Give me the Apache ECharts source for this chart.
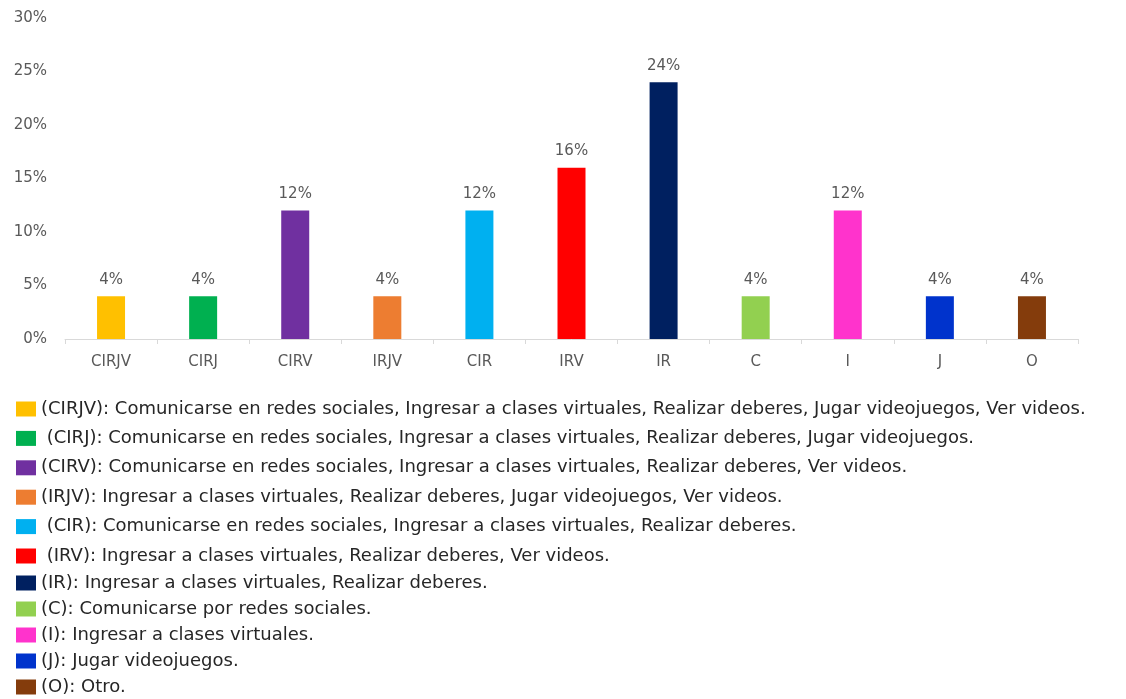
<!DOCTYPE html>
<html>
<head>
<meta charset="utf-8">
<script src="https://cdn.jsdelivr.net/npm/echarts@6/dist/echarts.min.js"></script>
<style>html,body{margin:0;padding:0;background:#fff;}#c{width:1126px;height:699px;}</style>
</head>
<body>
<div id="c"></div>
<script>
const categories = ['CIRJV','CIRJ','CIRV','IRJV','CIR','IRV','IR','C','I','J','O'];
const values = [4,4,12,4,12,16,24,4,12,4,4];
const colors = ['#FFC000','#00B050','#7030A0','#ED7D31','#00B0F0','#FF0000','#002060','#92D050','#FF33CC','#0033CC','#843C0C'];
const descriptions = [
  '(CIRJV): Comunicarse en redes sociales, Ingresar a clases virtuales, Realizar deberes, Jugar videojuegos, Ver videos.',
  ' (CIRJ): Comunicarse en redes sociales, Ingresar a clases virtuales, Realizar deberes, Jugar videojuegos.',
  '(CIRV): Comunicarse en redes sociales, Ingresar a clases virtuales, Realizar deberes, Ver videos.',
  '(IRJV): Ingresar a clases virtuales, Realizar deberes, Jugar videojuegos, Ver videos.',
  ' (CIR): Comunicarse en redes sociales, Ingresar a clases virtuales, Realizar deberes.',
  ' (IRV): Ingresar a clases virtuales, Realizar deberes, Ver videos.',
  '(IR): Ingresar a clases virtuales, Realizar deberes.',
  '(C): Comunicarse por redes sociales.',
  '(I): Ingresar a clases virtuales.',
  '(J): Jugar videojuegos.',
  '(O): Otro.'
];
const yTicks = {min: 0, max: 30, interval: 5};

const FONT = 'DejaVu Sans';
const chart = echarts.init(document.getElementById('c'));
const series = categories.map((cat, i) => ({
  name: cat,
  type: 'bar',
  stack: 'all',
  barWidth: 28,
  itemStyle: {color: colors[i]},
  label: {show: true, position: 'top', distance: 9, formatter: '{c}%', color: '#595959', fontSize: 15, fontFamily: FONT},
  data: categories.map((c, j) => j === i ? values[i] : '-')
}));
const legendText = {color: '#262626', fontSize: 18, fontFamily: FONT};
chart.setOption({
  animation: false,
  grid: {left: 65, right: 48, top: 18, bottom: 360, containLabel: false},
  xAxis: {
    type: 'category',
    data: categories,
    axisLine: {lineStyle: {color: '#d9d9d9'}},
    axisTick: {show: true, length: 5, lineStyle: {color: '#d9d9d9'}},
    axisLabel: {color: '#595959', fontSize: 15, fontFamily: FONT, margin: 16}
  },
  yAxis: {
    type: 'value',
    min: yTicks.min, max: yTicks.max, interval: yTicks.interval,
    axisLine: {show: false},
    axisTick: {show: false},
    splitLine: {show: false},
    axisLabel: {color: '#595959', fontSize: 15, fontFamily: FONT, formatter: '{value}%', margin: 18}
  },
  legend: [
    {
      orient: 'vertical', left: 16, top: 400, height: 290, padding: 0, itemWidth: 20, itemHeight: 15, itemGap: 11.4,
      icon: 'rect', selectedMode: false, textStyle: legendText,
      data: categories.slice(0, 6),
      formatter: name => descriptions[categories.indexOf(name)]
    },
    {
      orient: 'vertical', left: 16, top: 574, height: 290, padding: 0, itemWidth: 20, itemHeight: 15, itemGap: 8,
      icon: 'rect', selectedMode: false, textStyle: legendText,
      data: categories.slice(6),
      formatter: name => descriptions[categories.indexOf(name)]
    }
  ],
  series: series
});
</script>
</body>
</html>
